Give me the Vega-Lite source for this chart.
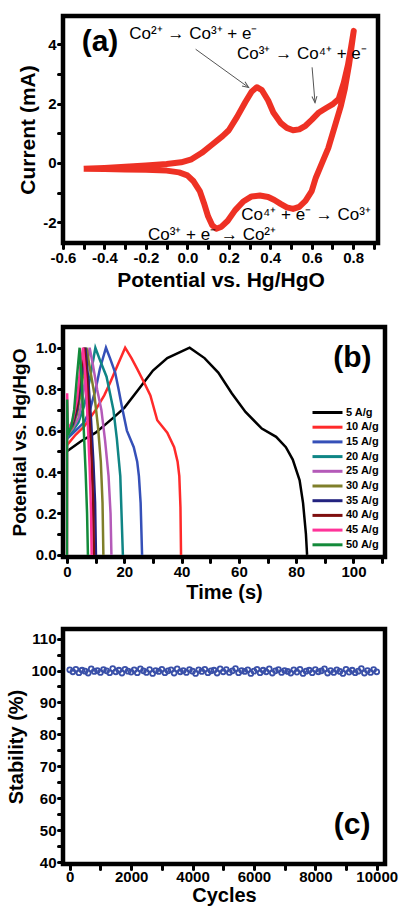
{
  "$schema": "https://vega.github.io/schema/vega-lite/v6.json",
  "padding": {"left": 4, "top": 13, "right": 5, "bottom": 2},
  "background": "white",
  "config": {
    "font": "Liberation Sans",
    "view": {"stroke": "black", "strokeWidth": 4.5},
    "axis": {
      "domain": false, "grid": false,
      "labelFont": "Liberation Sans", "labelFontWeight": "bold", "labelFontSize": 15, "labelColor": "black",
      "labelPadding": 2, "labelOverlap": false, "labelFlush": false,
      "tickColor": "black", "tickSize": 5, "tickWidth": 3, "tickCap": "round",
      "titleFont": "Liberation Sans", "titleFontSize": 20, "titleFontWeight": "bold", "titleColor": "black"
    }
  },
  "datasets": {
    "cv": [
      {"i":1,"x":-0.5,"y":-0.2},{"i":2,"x":-0.4,"y":-0.17},{"i":3,"x":-0.3,"y":-0.13},{"i":4,"x":-0.2,"y":-0.09},
      {"i":5,"x":-0.1,"y":-0.04},{"i":6,"x":-0.03,"y":0.02},{"i":7,"x":0.02,"y":0.12},{"i":8,"x":0.07,"y":0.34},
      {"i":9,"x":0.12,"y":0.62},{"i":10,"x":0.17,"y":0.9},{"i":11,"x":0.2,"y":1.1},{"i":12,"x":0.24,"y":1.55},
      {"i":13,"x":0.28,"y":2.05},{"i":14,"x":0.31,"y":2.4},{"i":15,"x":0.335,"y":2.55},{"i":16,"x":0.36,"y":2.45},
      {"i":17,"x":0.39,"y":2.1},{"i":18,"x":0.415,"y":1.7},{"i":19,"x":0.45,"y":1.35},{"i":20,"x":0.48,"y":1.18},
      {"i":21,"x":0.51,"y":1.1},{"i":22,"x":0.54,"y":1.13},{"i":23,"x":0.57,"y":1.25},{"i":24,"x":0.6,"y":1.45},
      {"i":25,"x":0.635,"y":1.7},{"i":26,"x":0.67,"y":1.85},{"i":27,"x":0.7,"y":1.97},{"i":28,"x":0.73,"y":2.15},
      {"i":29,"x":0.755,"y":2.7},{"i":30,"x":0.775,"y":3.3},{"i":31,"x":0.79,"y":3.9},{"i":32,"x":0.803,"y":4.45},
      {"i":33,"x":0.78,"y":3.3},{"i":34,"x":0.76,"y":2.5},{"i":35,"x":0.74,"y":1.9},{"i":36,"x":0.71,"y":1.2},
      {"i":37,"x":0.68,"y":0.5},{"i":38,"x":0.65,"y":0.0},{"i":39,"x":0.62,"y":-0.5},{"i":40,"x":0.6,"y":-0.95},
      {"i":41,"x":0.57,"y":-1.28},{"i":42,"x":0.54,"y":-1.48},{"i":43,"x":0.51,"y":-1.55},{"i":44,"x":0.48,"y":-1.5},
      {"i":45,"x":0.45,"y":-1.38},{"i":46,"x":0.42,"y":-1.25},{"i":47,"x":0.39,"y":-1.15},{"i":48,"x":0.35,"y":-1.1},
      {"i":49,"x":0.31,"y":-1.13},{"i":50,"x":0.27,"y":-1.3},{"i":51,"x":0.23,"y":-1.6},{"i":52,"x":0.195,"y":-1.95},
      {"i":53,"x":0.165,"y":-2.15},{"i":54,"x":0.14,"y":-2.22},{"i":55,"x":0.12,"y":-2.1},{"i":56,"x":0.1,"y":-1.8},
      {"i":57,"x":0.08,"y":-1.35},{"i":58,"x":0.06,"y":-0.95},{"i":59,"x":0.03,"y":-0.62},{"i":60,"x":0.0,"y":-0.42},
      {"i":61,"x":-0.04,"y":-0.32},{"i":62,"x":-0.1,"y":-0.26},{"i":63,"x":-0.2,"y":-0.23},{"i":64,"x":-0.3,"y":-0.22},
      {"i":65,"x":-0.4,"y":-0.21},{"i":66,"x":-0.5,"y":-0.2}
    ],
    "arrows": [
      {"id":1,"x":0.04,"y":3.83,"x2":0.296,"y2":2.54},
      {"id":2,"x":0.602,"y":3.22,"x2":0.616,"y2":2.03}
    ],
    "heads": [
      {"id":1,"x":0.296,"y":2.54},
      {"id":2,"x":0.616,"y":2.03}
    ],
    "notes": [
      {"x":-0.28,"y":4.34,"label":"Co²⁺ → Co³⁺ + e⁻"},
      {"x":0.24,"y":3.66,"label":"Co³⁺ → Co⁴⁺ + e⁻"},
      {"x":0.26,"y":-1.76,"label":"Co⁴⁺ + e⁻ → Co³⁺"},
      {"x":-0.19,"y":-2.44,"label":"Co³⁺ + e⁻ → Co²⁺"}
    ],
    "gcd": [
      {"rate":"5 A/g","t":0,"v":0.5},{"rate":"5 A/g","t":5,"v":0.55},{"rate":"5 A/g","t":10,"v":0.59},{"rate":"5 A/g","t":16,"v":0.66},
      {"rate":"5 A/g","t":20,"v":0.71},{"rate":"5 A/g","t":25,"v":0.8},{"rate":"5 A/g","t":30,"v":0.89},{"rate":"5 A/g","t":35,"v":0.95},
      {"rate":"5 A/g","t":42.8,"v":1.0},{"rate":"5 A/g","t":48,"v":0.95},{"rate":"5 A/g","t":52.8,"v":0.88},{"rate":"5 A/g","t":57.5,"v":0.78},
      {"rate":"5 A/g","t":62.3,"v":0.69},{"rate":"5 A/g","t":68,"v":0.61},{"rate":"5 A/g","t":73,"v":0.57},{"rate":"5 A/g","t":76.4,"v":0.52},
      {"rate":"5 A/g","t":78.8,"v":0.46},{"rate":"5 A/g","t":81.2,"v":0.36},{"rate":"5 A/g","t":82.4,"v":0.25},{"rate":"5 A/g","t":83.4,"v":0.1},
      {"rate":"5 A/g","t":83.8,"v":0},
      {"rate":"10 A/g","t":0,"v":0.53},{"rate":"10 A/g","t":3,"v":0.58},{"rate":"10 A/g","t":6,"v":0.62},{"rate":"10 A/g","t":10,"v":0.7},
      {"rate":"10 A/g","t":13,"v":0.77},{"rate":"10 A/g","t":15,"v":0.83},{"rate":"10 A/g","t":17.5,"v":0.91},{"rate":"10 A/g","t":20.3,"v":1.0},
      {"rate":"10 A/g","t":22.5,"v":0.95},{"rate":"10 A/g","t":24.4,"v":0.9},{"rate":"10 A/g","t":27,"v":0.83},{"rate":"10 A/g","t":29.1,"v":0.77},
      {"rate":"10 A/g","t":31.5,"v":0.65},{"rate":"10 A/g","t":35,"v":0.59},{"rate":"10 A/g","t":37.4,"v":0.52},{"rate":"10 A/g","t":38.6,"v":0.45},
      {"rate":"10 A/g","t":39.2,"v":0.38},{"rate":"10 A/g","t":39.6,"v":0.23},{"rate":"10 A/g","t":39.8,"v":0},
      {"rate":"15 A/g","t":0,"v":0.56},{"rate":"15 A/g","t":3,"v":0.6},{"rate":"15 A/g","t":6,"v":0.64},{"rate":"15 A/g","t":8,"v":0.7},
      {"rate":"15 A/g","t":10,"v":0.8},{"rate":"15 A/g","t":11.5,"v":0.9},{"rate":"15 A/g","t":13.6,"v":1.0},{"rate":"15 A/g","t":15,"v":0.95},
      {"rate":"15 A/g","t":16.8,"v":0.88},{"rate":"15 A/g","t":18,"v":0.8},{"rate":"15 A/g","t":19.1,"v":0.72},{"rate":"15 A/g","t":20.9,"v":0.6},
      {"rate":"15 A/g","t":23.3,"v":0.52},{"rate":"15 A/g","t":24.5,"v":0.45},{"rate":"15 A/g","t":25.1,"v":0.38},{"rate":"15 A/g","t":25.7,"v":0.25},
      {"rate":"15 A/g","t":26.2,"v":0},
      {"rate":"20 A/g","t":0,"v":0.57},{"rate":"20 A/g","t":2,"v":0.6},{"rate":"20 A/g","t":4,"v":0.64},{"rate":"20 A/g","t":6,"v":0.72},
      {"rate":"20 A/g","t":8,"v":0.85},{"rate":"20 A/g","t":9.9,"v":1.0},{"rate":"20 A/g","t":11.5,"v":0.94},{"rate":"20 A/g","t":13.8,"v":0.86},
      {"rate":"20 A/g","t":15,"v":0.78},{"rate":"20 A/g","t":16.2,"v":0.7},{"rate":"20 A/g","t":17.4,"v":0.56},{"rate":"20 A/g","t":18.6,"v":0.38},
      {"rate":"20 A/g","t":19.5,"v":0},
      {"rate":"25 A/g","t":0,"v":0.58},{"rate":"25 A/g","t":2,"v":0.61},{"rate":"25 A/g","t":4,"v":0.66},{"rate":"25 A/g","t":5.5,"v":0.76},
      {"rate":"25 A/g","t":6.8,"v":0.9},{"rate":"25 A/g","t":7.9,"v":1.0},{"rate":"25 A/g","t":9,"v":0.92},{"rate":"25 A/g","t":10.5,"v":0.8},
      {"rate":"25 A/g","t":12,"v":0.7},{"rate":"25 A/g","t":13.3,"v":0.55},{"rate":"25 A/g","t":14.5,"v":0.38},{"rate":"25 A/g","t":15.2,"v":0.2},
      {"rate":"25 A/g","t":15.5,"v":0},
      {"rate":"30 A/g","t":0,"v":0.58},{"rate":"30 A/g","t":2,"v":0.62},{"rate":"30 A/g","t":3.5,"v":0.68},{"rate":"30 A/g","t":5,"v":0.8},
      {"rate":"30 A/g","t":6.8,"v":1.0},{"rate":"30 A/g","t":8,"v":0.9},{"rate":"30 A/g","t":9.5,"v":0.78},{"rate":"30 A/g","t":10.8,"v":0.62},
      {"rate":"30 A/g","t":11.8,"v":0.45},{"rate":"30 A/g","t":12.4,"v":0.25},{"rate":"30 A/g","t":12.7,"v":0},
      {"rate":"35 A/g","t":0,"v":0.59},{"rate":"35 A/g","t":2,"v":0.63},{"rate":"35 A/g","t":3.5,"v":0.7},{"rate":"35 A/g","t":5,"v":0.85},
      {"rate":"35 A/g","t":6.4,"v":1.0},{"rate":"35 A/g","t":7.4,"v":0.85},{"rate":"35 A/g","t":8.4,"v":0.65},{"rate":"35 A/g","t":9.2,"v":0.45},
      {"rate":"35 A/g","t":9.8,"v":0.25},{"rate":"35 A/g","t":10.1,"v":0},
      {"rate":"40 A/g","t":0,"v":0.6},{"rate":"40 A/g","t":2,"v":0.64},{"rate":"40 A/g","t":3.5,"v":0.72},{"rate":"40 A/g","t":4.8,"v":0.88},
      {"rate":"40 A/g","t":6,"v":1.0},{"rate":"40 A/g","t":7,"v":0.85},{"rate":"40 A/g","t":7.9,"v":0.65},{"rate":"40 A/g","t":8.6,"v":0.45},
      {"rate":"40 A/g","t":9.1,"v":0.25},{"rate":"40 A/g","t":9.4,"v":0},
      {"rate":"45 A/g","t":0,"v":0},{"rate":"45 A/g","t":0.05,"v":0.78},{"rate":"45 A/g","t":0.3,"v":0.6},{"rate":"45 A/g","t":2,"v":0.65},
      {"rate":"45 A/g","t":3.5,"v":0.75},{"rate":"45 A/g","t":4.6,"v":0.9},{"rate":"45 A/g","t":5.6,"v":1.0},{"rate":"45 A/g","t":6.5,"v":0.85},
      {"rate":"45 A/g","t":7.3,"v":0.62},{"rate":"45 A/g","t":7.9,"v":0.42},{"rate":"45 A/g","t":8.4,"v":0.2},{"rate":"45 A/g","t":8.6,"v":0},
      {"rate":"50 A/g","t":0,"v":0},{"rate":"50 A/g","t":0.05,"v":0.75},{"rate":"50 A/g","t":0.3,"v":0.58},{"rate":"50 A/g","t":1.5,"v":0.62},
      {"rate":"50 A/g","t":2.5,"v":0.7},{"rate":"50 A/g","t":3.4,"v":0.85},{"rate":"50 A/g","t":4.4,"v":1.0},{"rate":"50 A/g","t":5.1,"v":0.85},
      {"rate":"50 A/g","t":5.8,"v":0.62},{"rate":"50 A/g","t":6.5,"v":0.4},{"rate":"50 A/g","t":7,"v":0.2},{"rate":"50 A/g","t":7.3,"v":0}
    ],
    "stab": [
      {"c":0,"s":100.2},{"c":100,"s":99.6},{"c":200,"s":100.4},{"c":300,"s":99.3},{"c":400,"s":100.1},{"c":500,"s":99.8},{"c":600,"s":99.2},{"c":700,"s":100.5},{"c":800,"s":99.7},{"c":900,"s":100.0},
      {"c":1000,"s":99.4},{"c":1100,"s":100.3},{"c":1200,"s":99.9},{"c":1300,"s":99.3},{"c":1400,"s":100.6},{"c":1500,"s":99.6},{"c":1600,"s":100.1},{"c":1700,"s":99.2},{"c":1800,"s":100.4},{"c":1900,"s":99.8},
      {"c":2000,"s":99.5},{"c":2100,"s":100.2},{"c":2200,"s":99.3},{"c":2300,"s":100.5},{"c":2400,"s":99.9},{"c":2500,"s":99.4},{"c":2600,"s":100.3},{"c":2700,"s":99.1},{"c":2800,"s":100.0},{"c":2900,"s":99.7},
      {"c":3000,"s":100.4},{"c":3100,"s":99.3},{"c":3200,"s":99.9},{"c":3300,"s":100.2},{"c":3400,"s":99.2},{"c":3500,"s":100.5},{"c":3600,"s":99.6},{"c":3700,"s":100.0},{"c":3800,"s":99.4},{"c":3900,"s":100.3},
      {"c":4000,"s":99.8},{"c":4100,"s":99.1},{"c":4200,"s":100.2},{"c":4300,"s":99.7},{"c":4400,"s":100.4},{"c":4500,"s":99.3},{"c":4600,"s":99.9},{"c":4700,"s":100.1},{"c":4800,"s":99.2},{"c":4900,"s":100.5},
      {"c":5000,"s":99.6},{"c":5100,"s":100.3},{"c":5200,"s":99.4},{"c":5300,"s":99.9},{"c":5400,"s":100.6},{"c":5500,"s":99.3},{"c":5600,"s":100.0},{"c":5700,"s":99.7},{"c":5800,"s":100.2},{"c":5900,"s":99.1},
      {"c":6000,"s":99.8},{"c":6100,"s":100.4},{"c":6200,"s":99.3},{"c":6300,"s":100.1},{"c":6400,"s":99.6},{"c":6500,"s":100.5},{"c":6600,"s":99.2},{"c":6700,"s":99.9},{"c":6800,"s":100.3},{"c":6900,"s":99.4},
      {"c":7000,"s":100.0},{"c":7100,"s":99.7},{"c":7200,"s":99.2},{"c":7300,"s":100.2},{"c":7400,"s":99.5},{"c":7500,"s":100.4},{"c":7600,"s":99.1},{"c":7700,"s":99.8},{"c":7800,"s":100.1},{"c":7900,"s":99.3},
      {"c":8000,"s":100.3},{"c":8100,"s":99.6},{"c":8200,"s":99.9},{"c":8300,"s":100.5},{"c":8400,"s":99.2},{"c":8500,"s":100.0},{"c":8600,"s":99.4},{"c":8700,"s":100.2},{"c":8800,"s":99.7},{"c":8900,"s":99.1},
      {"c":9000,"s":100.4},{"c":9100,"s":99.5},{"c":9200,"s":100.1},{"c":9300,"s":99.3},{"c":9400,"s":99.8},{"c":9500,"s":100.6},{"c":9600,"s":99.2},{"c":9700,"s":100.0},{"c":9800,"s":99.4},{"c":9900,"s":100.3},{"c":10000,"s":99.6}
    ]
  },
  "spacing": 31,
  "resolve": {"scale": {"color": "independent"}, "legend": {"color": "independent"}},
  "vconcat": [
    {
      "width": 315, "height": 227,
      "encoding": {
        "x": {"field": "x", "type": "quantitative",
          "scale": {"domain": [-0.6, 0.92], "nice": false, "zero": false},
          "axis": {"title": "Potential vs. Hg/HgO", "titleFontSize": 21, "titlePadding": 4,
            "values": [-0.6,-0.5,-0.4,-0.3,-0.2,-0.1,0,0.1,0.2,0.3,0.4,0.5,0.6,0.7,0.8,0.9],
            "labelExpr": "abs(round(datum.value*10)) % 2 == 0 ? replace(format(datum.value, '.1f'), '−', '-') : ''"}},
        "y": {"field": "y", "type": "quantitative",
          "scale": {"domain": [-2.7, 4.95], "nice": false, "zero": false},
          "axis": {"title": "Current (mA)", "titleFontSize": 21,
            "values": [-2,-1,0,1,2,3,4],
            "labelExpr": "datum.value % 2 == 0 ? replace(format(datum.value, 'd'), '−', '-') : ''"}}
      },
      "layer": [
        {"data": {"name": "cv"}, "mark": {"type": "line", "color": "#ee3124", "strokeWidth": 6, "strokeJoin": "round"},
          "encoding": {"order": {"field": "i", "type": "quantitative"}}},
        {"data": {"name": "arrows"}, "mark": {"type": "rule", "color": "#555555", "strokeWidth": 1},
          "encoding": {"x2": {"field": "x2"}, "y2": {"field": "y2"}}},
        {"data": {"name": "heads"}, "transform": [{"filter": "datum.id == 1"}],
          "mark": {"type": "point", "shape": "M-0.8,-2L0,0L0.8,-2", "angle": 305, "size": 40, "filled": false, "stroke": "#555555", "strokeWidth": 1, "opacity": 1}},
        {"data": {"name": "heads"}, "transform": [{"filter": "datum.id == 2"}],
          "mark": {"type": "point", "shape": "M-0.8,-2L0,0L0.8,-2", "angle": 355, "size": 40, "filled": false, "stroke": "#555555", "strokeWidth": 1, "opacity": 1}},
        {"data": {"name": "notes"}, "mark": {"type": "text", "align": "left", "baseline": "middle", "fontSize": 17, "color": "black"},
          "encoding": {"text": {"field": "label"}}},
        {"data": {"values": [{"x": -0.51, "y": 4.07, "label": "(a)"}]},
          "mark": {"type": "text", "align": "left", "baseline": "middle", "fontSize": 30, "fontWeight": "bold", "color": "black"},
          "encoding": {"text": {"field": "label"}}}
      ]
    },
    {
      "spacing": 21,
      "resolve": {"scale": {"color": "independent"}, "legend": {"color": "independent"}},
      "vconcat": [
        {
          "width": 322, "height": 230,
          "encoding": {
            "x": {"field": "t", "type": "quantitative",
              "scale": {"domain": [-1.4, 111], "nice": false, "zero": false},
              "axis": {"title": "Time (s)", "titlePadding": 3,
                "values": [0,10,20,30,40,50,60,70,80,90,100,110],
                "labelExpr": "datum.value % 20 == 0 ? format(datum.value, 'd') : ''"}},
            "y": {"field": "v", "type": "quantitative",
              "scale": {"domain": [-0.01, 1.1], "nice": false, "zero": false},
              "axis": {"title": "Potential vs. Hg/HgO", "titleFontSize": 19, "titlePadding": 6,
                "values": [0,0.1,0.2,0.3,0.4,0.5,0.6,0.7,0.8,0.9,1.0],
                "labelExpr": "abs(round(datum.value*10)) % 2 == 0 ? format(datum.value, '.1f') : ''"}}
          },
          "layer": [
            {"data": {"name": "gcd"}, "mark": {"type": "line", "strokeWidth": 2.5},
              "encoding": {"color": {"field": "rate", "type": "nominal",
                "scale": {"domain": ["5 A/g","10 A/g","15 A/g","20 A/g","25 A/g","30 A/g","35 A/g","40 A/g","45 A/g","50 A/g"],
                  "range": ["#000000","#ff2a2a","#3550b8","#0f8585","#b45ab8","#7f7f2a","#23237f","#7f0f0f","#ff3399","#138a3a"]},
                "legend": {"orient": "none", "legendX": 258, "legendY": 79, "title": null,
                  "symbolType": "M-3,0L3,0", "symbolSize": 100, "symbolStrokeWidth": 3,
                  "labelFontSize": 11, "labelFontWeight": "bold", "labelColor": "black", "labelOffset": 12, "rowPadding": 1.7}}}},
            {"data": {"values": [{"t": 99.6, "v": 0.95, "label": "(b)"}]},
              "mark": {"type": "text", "align": "center", "baseline": "middle", "fontSize": 30, "fontWeight": "bold", "color": "black"},
              "encoding": {"text": {"field": "label"}}}
          ]
        },
        {
          "width": 322, "height": 235,
          "encoding": {
            "x": {"field": "c", "type": "quantitative",
              "scale": {"domain": [-220, 10270], "nice": false, "zero": false},
              "axis": {"title": "Cycles", "titlePadding": 1, "labelPadding": 0,
                "values": [0,1000,2000,3000,4000,5000,6000,7000,8000,9000,10000],
                "labelExpr": "datum.value % 2000 == 0 ? format(datum.value, 'd') : ''"}},
            "y": {"field": "s", "type": "quantitative",
              "scale": {"domain": [39.4, 113], "nice": false, "zero": false},
              "axis": {"title": "Stability (%)",
                "values": [40,45,50,55,60,65,70,75,80,85,90,95,100,105,110],
                "labelExpr": "datum.value % 10 == 0 ? format(datum.value, 'd') : ''"}}
          },
          "layer": [
            {"data": {"name": "stab"}, "mark": {"type": "point", "filled": false, "color": "#3a50a8", "strokeWidth": 1.8, "size": 24, "opacity": 1}},
            {"data": {"values": [{"c": 9200, "s": 51.6, "label": "(c)"}]},
              "mark": {"type": "text", "align": "center", "baseline": "middle", "fontSize": 30, "fontWeight": "bold", "color": "black"},
              "encoding": {"text": {"field": "label"}}}
          ]
        }
      ]
    }
  ]
}
